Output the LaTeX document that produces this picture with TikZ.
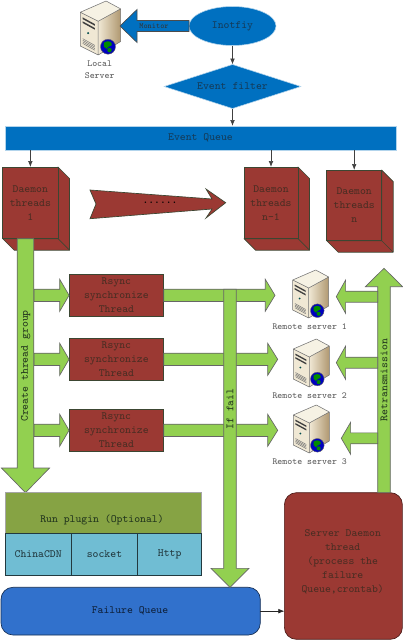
\documentclass[tikz,border=0pt]{standalone}
\usepackage{fontspec}
\usetikzlibrary{calc,shapes.geometric,arrows.meta}
\definecolor{bluef}{RGB}{0,112,192}
\definecolor{bluefq}{RGB}{49,113,204}
\definecolor{brick}{RGB}{155,57,51}
\definecolor{edgeg}{RGB}{60,70,50}
\definecolor{grn}{RGB}{146,208,80}
\definecolor{olive}{RGB}{134,163,68}
\definecolor{cyanf}{RGB}{112,189,211}
\definecolor{txb}{RGB}{20,60,90}
\definecolor{txr}{RGB}{75,45,35}
\definecolor{txg}{RGB}{35,55,30}
\definecolor{txk}{RGB}{90,90,90}
\tikzset{
 x=0.75pt,y=-0.75pt,
 lab/.style={font=\ttfamily\fontsize{8.3}{10.5}\selectfont,align=center,inner sep=0pt},
 lab2/.style={font=\ttfamily\fontsize{7}{9}\selectfont,align=center,inner sep=0pt,text=txk},
 blu/.style={fill=bluef,draw=white!70!bluef,line width=0.4pt,text=txb},
 box/.style={fill=brick,draw=edgeg,line width=0.5pt,text=txr,inner sep=0pt,outer sep=0pt,minimum width=#1},
 thin arr/.style={draw=black!75,line width=0.5pt,-{Latex[length=4.5pt,width=3.5pt]}},
 gblock/.style={fill=grn,draw=black!60,line width=0.5pt,line join=miter},
 cell/.style={draw=black!70!cyanf,line width=0.5pt,fill=cyanf,inner sep=0pt,outer sep=0pt,text=black!70!cyanf}
}
% from, to, half shaft, half head, head length (pt)
\newcommand{\blockarrow}[6][gblock]{%
 \coordinate (hb) at ($(#3)!#6!(#2)$);
 \draw[#1] ($(#2)!#4!90:(#3)$) -- ($(hb)!#4!90:(#3)$) -- ($(hb)!#5!90:(#3)$) -- (#3)
   -- ($(hb)!#5!-90:(#3)$) -- ($(hb)!#4!-90:(#3)$) -- ($(#2)!#4!-90:(#3)$) -- cycle;
}
\newcommand{\cube}[5]{% name, x0,y0,x1,y1 front face
 \draw[fill=brick,draw=edgeg,line width=0.5pt,line join=round] (#4,#3) -- ({#4+11.5},{#3+11.5}) -- ({#4+11.5},{#5+11.5}) -- ({#2+11.5},{#5+11.5}) -- (#2,#5) -- (#4,#5) -- cycle;
 \draw[edgeg,line width=0.5pt] (#4,#5) -- ({#4+11.5},{#5+11.5});
 \node[box=#4*0.75pt-#2*0.75pt,draw=edgeg,minimum height={(#5-#3)*0.75pt},anchor=north west] (#1) at (#2,#3) {};
}
\newcommand{\globe}[3]{% cx cy r
 \fill[blue!75!black] (#1,#2) circle (#3);
 \fill[green!55!black] ({#1-0.55*#3},{#2-0.55*#3}) .. controls ({#1+0.1*#3},{#2-0.95*#3}) and ({#1+0.6*#3},{#2-0.6*#3}) .. ({#1+0.5*#3},{#2-0.2*#3}) .. controls ({#1+0.2*#3},{#2+0.1*#3}) and ({#1-0.1*#3},{#2-0.1*#3}) .. ({#1-0.2*#3},{#2+0.3*#3}) .. controls ({#1-0.5*#3},{#2+0.2*#3}) and ({#1-0.7*#3},{#2-0.2*#3}) .. cycle;
 \fill[green!55!black] ({#1+0.2*#3},{#2+0.45*#3}) circle ({0.3*#3});
 \draw[black!60,line width=0.3pt] (#1,#2) circle (#3);
}
\definecolor{srvtop}{RGB}{246,242,228}
\definecolor{srvleft}{RGB}{240,232,212}
\definecolor{srvr}{RGB}{176,152,112}
\newcommand{\servericon}[4]{% x y sx sy (local size 36x48)
 \begin{scope}[shift={(#1,#2)},x=#3*0.75pt,y=-#4*0.75pt]
  \fill[srvtop] (0,10) -- (23,0) -- (36,7) -- (16,18) -- cycle;
  \shade[left color=srvleft,right color=srvr] (16,18) -- (36,7) -- (36,36) -- (16,48) -- cycle;
  \fill[srvleft] (0,10) -- (16,18) -- (16,48) -- (0,40) -- cycle;
  \draw[black!55,line width=0.4pt,line join=round] (0,10) -- (23,0) -- (36,7) -- (36,36) -- (16,48) -- (0,40) -- cycle (0,10) -- (16,18) -- (36,7) (16,18) -- (16,48);
  \fill[black!75] (2,14.5) -- (13,20.5) -- (13,22) -- (2,16) -- cycle (2,18) -- (13,24) -- (13,25.5) -- (2,19.5) -- cycle;
  \fill[teal!60!black] (7,28.5) circle (1);
  \foreach \d in {0,1.4,2.8,4.2}{\draw[black!55,line width=0.35pt] (2.2,{33.5+\d}) -- (13,{39.5+\d});}
 \end{scope}
}
\begin{document}
\begin{tikzpicture}
\useasboundingbox (0,0) rectangle (403,640);
\fill[white] (0,0) rectangle (403,640);
% top row
\node[ellipse,blu,minimum width=87*0.75pt,minimum height=39*0.75pt,inner sep=0pt,outer sep=0pt,lab] (ino) at (232.5,26) {Inotfiy};
\node[diamond,blu,minimum width=136.7*0.75pt,minimum height=44*0.75pt,inner sep=0pt,outer sep=0pt,aspect=3.1,lab] (filter) at (232.5,86.5) {Event filter};
\node[blu,minimum width=391*0.75pt,minimum height=24*0.75pt,inner sep=0pt,outer sep=0pt,lab] (queue) at (200.5,138) {Event Queue};
\draw[thin arr] (ino) -- (filter);
\draw[thin arr] (filter) -- (filter |- queue.north);
\servericon{80.3}{1}{1.12}{1.125}
\globe{108}{46.7}{7.5}
\node[lab2] (local) at (99.7,70) {Local\\Server};
\coordinate (monA) at (ino.west);
\coordinate (monB) at (120,26);
\blockarrow[fill=bluef,draw=black!70,line width=0.5pt]{monA}{monB}{4.1pt}{12.4pt}{12.8pt}
\node[lab,font=\ttfamily\fontsize{5.9}{7}\selectfont,text=black!80] (monlab) at (154,26) {Monitor};
% daemons
\cube{d1}{2.7}{167}{58}{238.7}
\cube{dn1}{244}{167}{298}{238.7}
\cube{dn}{326.7}{170}{381.7}{240.7}
\draw[thin arr] (queue.south -| d1.north) -- (d1.north);
\draw[thin arr] (queue.south -| dn1.north) -- (dn1.north);
\draw[thin arr] (queue.south -| dn.north) -- (dn.north);
\node[lab,text=txr] (d1t) at (d1.center) {Daemon\\threads\\1};
\node[lab,text=txr] (dn1t) at (dn1.center) {Daemon\\threads\\n-1};
\node[lab,text=txr] (dnt) at (dn.center) {Daemon\\threads\\n};
% progress arrow
\draw[fill=brick,draw=edgeg,line width=0.5pt] (90,190) -- (212,199) -- (206,189) -- (225.7,202.7) -- (206,218) -- (212,209) -- (90,218.7) -- (96,204) -- cycle;
\node[lab,font=\ttfamily\bfseries\fontsize{8.3}{10}\selectfont,text=black] (dots) at (160,203) {......};
% rsync boxes
\foreach \n/\yy in {a/295.3,b/359.3,c/430.3}{
 \node[box=94.7*0.75pt,minimum height=42.7*0.75pt,lab,text=txr] (r\n) at (116.4,\yy) {Rsync\\synchronize\\Thread};
}
% right arrows
\coordinate (ta) at (275,295.3);
\coordinate (tb) at (277.7,359.3);
\coordinate (tc) at (277.7,430.3);
\blockarrow{ra.east}{ta}{4.6pt}{12pt}{7.3pt}
\blockarrow{rb.east}{tb}{4.6pt}{12pt}{7.5pt}
\blockarrow{rc.east}{tc}{4.6pt}{12pt}{7.5pt}
% left arrows into rsync
\coordinate (la) at (34,295.3);
\coordinate (lb) at (34,359.3);
\coordinate (lc) at (34,430.3);
\blockarrow{la}{ra.west}{4.6pt}{12pt}{7pt}
\blockarrow{lb}{rb.west}{4.6pt}{12pt}{7pt}
\blockarrow{lc}{rc.west}{4.6pt}{12pt}{7pt}
% create thread group
\coordinate (cgA) at (25.5,238.7);
\coordinate (cgB) at (25.5,492.7);
\blockarrow{cgA}{cgB}{6.2pt}{18pt}{18.5pt}
\node[lab,rotate=90,text=txg] (cgt) at (25.7,366) {Create thread group};
% plugin
\node[fill=olive,draw=black!35,line width=0.5pt,minimum width=196.7*0.75pt,minimum height=40.6*0.75pt,inner sep=0pt,outer sep=0pt,anchor=north west] (plug) at (5,492.7) {};
\node[lab,text=txg] (plugt) at (102,519.7) {Run plugin (Optional)};
\node[cell,minimum width=66.3*0.75pt,minimum height=42.4*0.75pt,anchor=north west,lab,text=black!70!cyanf] (c1) at (5,533.3) {ChinaCDN};
\node[cell,minimum width=66.4*0.75pt,minimum height=42.4*0.75pt,anchor=north west,lab,text=black!70!cyanf] (c2) at (71.3,533.3) {socket};
\node[cell,minimum width=64*0.75pt,minimum height=42.4*0.75pt,anchor=north west,lab,text=black!70!cyanf] (c3) at (137.7,533.3) {Http};
% queues
\node[fill=bluefq,draw=black!60!bluefq,line width=0.5pt,rounded corners=9pt,minimum width=259.3*0.75pt,minimum height=47.7*0.75pt,inner sep=0pt,outer sep=0pt,anchor=north west] (fq) at (1,587.3) {};
\node[lab,text=black!70!bluefq] (fqt) at (130,610.5) {Failure Queue};
\node[fill=brick,draw=black!50!brick,line width=0.5pt,rounded corners=9pt,minimum width=118*0.75pt,minimum height=146.6*0.75pt,inner sep=0pt,outer sep=0pt,anchor=north west] (sd) at (284.4,492.7) {};
\node[lab,text=txr] (sdt) at (342.7,561.7) {Server Daemon\\thread\\(process the\\failure\\Queue,crontab)};
\draw[draw=black!85,line width=0.5pt,-{Latex[length=4.5pt,width=3.5pt]}] (fq.east) -- (sd.west |- fq.east);
% if fail
\coordinate (ifA) at (230,289.3);
\coordinate (ifB) at (230,587.3);
\blockarrow{ifA}{ifB}{4.7pt}{14.2pt}{14.2pt}
\node[lab,rotate=90,text=txg] (ift) at (230,409) {If fail};
% retransmission
\coordinate (rtB) at (384,268.3);
\coordinate (rtA) at (384,492.7);
\blockarrow{rtA}{rtB}{4.7pt}{14pt}{13.8pt}
\node[lab,rotate=90,text=txg] (rtt) at (384,380) {Retransmission};
% servers
\servericon{292.7}{270}{1}{1}
\servericon{293.3}{339}{1}{1}
\servericon{293.3}{405}{1}{1}
\globe{317.3}{310.7}{6.8}
\globe{317.3}{379}{6.8}
\globe{317.3}{445.3}{6.8}
\node[lab2] (s1) at (309.7,326.7) {Remote server 1};
\node[lab2] (s2) at (309.7,395.7) {Remote server 2};
\node[lab2] (s3) at (309.7,461.7) {Remote server 3};
% back arrows
\coordinate (baA) at (377.7,296.7); \coordinate (baB) at (336.3,296.7);
\coordinate (bbA) at (377.7,362.7); \coordinate (bbB) at (336.3,362.7);
\coordinate (bcA) at (377.7,438.3); \coordinate (bcB) at (341.3,438.3);
\blockarrow{baA}{baB}{4.1pt}{12.5pt}{7pt}
\blockarrow{bbA}{bbB}{4.1pt}{12.5pt}{7pt}
\blockarrow{bcA}{bcB}{4.1pt}{12pt}{7pt}
\end{tikzpicture}
\end{document}
